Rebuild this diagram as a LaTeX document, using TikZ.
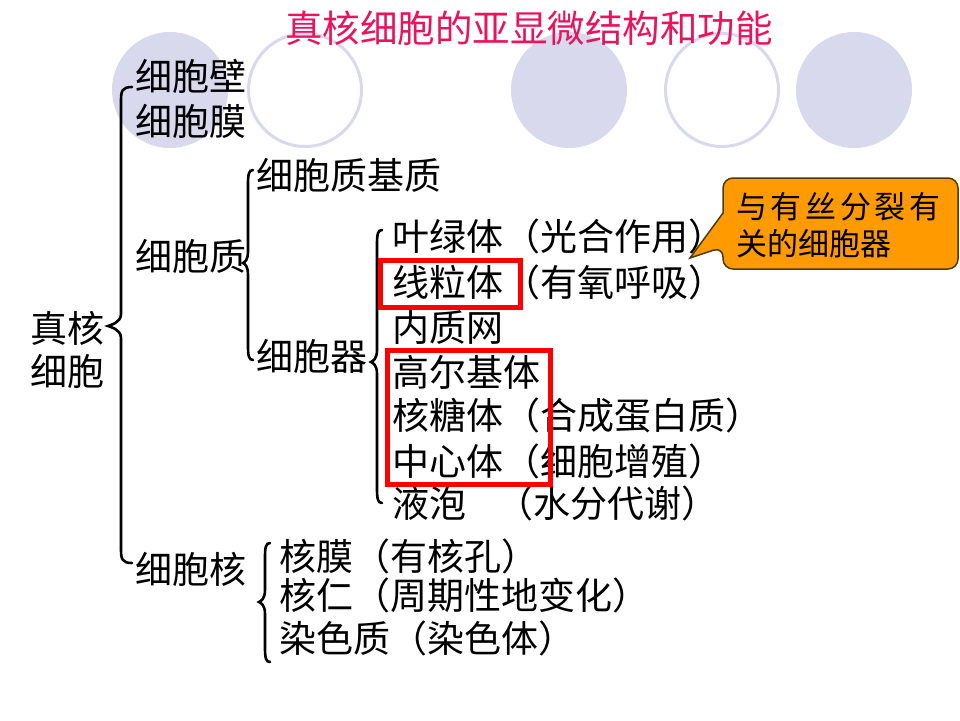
\documentclass[tikz,border=0pt]{standalone}
\usepackage{fontspec}
\setmainfont{Noto Sans CJK SC}[Kerning=Off]
\definecolor{lav}{HTML}{D9D9ED}
\definecolor{titlered}{HTML}{E8145E}
\definecolor{callfill}{HTML}{FF9A00}
\definecolor{callline}{HTML}{4D3A10}
\newcommand\mkbrace[6]{%
  \draw[brc] (#1,#4) .. controls (#2+1,#4) and (#2,#4+4) .. (#2,#4+14)
    -- (#2,#5-12) .. controls (#2,#5-3) and (#3+2,#5-1) .. (#3,#5)
    .. controls (#3+2,#5+1) and (#2,#5+3) .. (#2,#5+12)
    -- (#2,#6-14) .. controls (#2,#6-4) and (#2+1,#6) .. (#1,#6);}
\begin{document}
\begin{tikzpicture}[x=1pt,y=-1pt,
  lbl/.style={anchor=west, inner sep=0pt, text height=32.6pt, text depth=4.4pt,
    font=\fontsize{37pt}{37pt}\selectfont},
  cl/.style={anchor=west, inner sep=0pt, text height=27.3pt, text depth=3.7pt,
    font=\fontsize{31pt}{31pt}\selectfont},
  brc/.style={line width=2.6pt, line cap=round},
  redbox/.style={draw=red, line width=5pt},
  disc/.style={circle, fill=lav, draw=none, minimum size=116pt, inner sep=0pt},
  ring/.style={circle, draw=lav, line width=3pt, fill=white, minimum size=113pt, inner sep=0pt},
  callout/.style={fill=callfill, draw=callline, line width=1.5pt}]
\useasboundingbox (0,0) rectangle (960,720);
\fill[white] (0,0) rectangle (960,720);
% decorative circles
\node[disc] (c1) at (170,90) {};
\node[ring] (c2) at (305,90) {};
\node[disc] (c3) at (569,90) {};
\node[ring] (c4) at (722,90) {};
\node[disc] (c5) at (854,90) {};
% title
\node[inner sep=0pt, text height=33pt, text depth=4.5pt, text=titlered,
  font=\fontsize{37.5pt}{37.5pt}\selectfont] (title) at (529,28) {真核细胞的亚显微结构和功能};
% braces
\mkbrace{132}{121}{108}{87}{326}{563}
\mkbrace{253}{248}{243}{170}{263}{360}
\mkbrace{382}{377}{371}{230}{362}{503}
\mkbrace{270}{265}{259}{543}{602}{662}
% texts
\node[lbl] (zh1) at (30,328) {真核};
\node[lbl] (zh2) at (30,371) {细胞};
\node[lbl] (wall) at (135,76) {细胞壁};
\node[lbl] (memb) at (135,121) {细胞膜};
\node[lbl] (cyto) at (135,256) {细胞质};
\node[lbl] (nucl) at (135,569) {细胞核};
\node[lbl] (matrix) at (256,175) {细胞质基质};
\node[lbl] (organ) at (256,356) {细胞器};
\node[lbl] (o1) at (392,236) {叶绿体（光合作用）};
\node[lbl] (o2) at (392,282) {线粒体（有氧呼吸）};
\node[lbl] (o3) at (392,327) {内质网};
\node[lbl] (o4) at (392,372) {高尔基体};
\node[lbl] (o5) at (392,415) {核糖体（合成蛋白质）};
\node[lbl] (o6) at (392,461) {中心体（细胞增殖）};
\node[lbl] (o7) at (392,503) {液泡\hspace*{30pt}（水分代谢）};
\node[lbl] (n1) at (279,556) {核膜（有核孔）};
\node[lbl] (n2) at (279,595) {核仁（周期性地变化）};
\node[lbl] (n3) at (279,638) {染色质（染色体）};
% red boxes
\draw[redbox] (380,260) rectangle (520,307);
\draw[redbox] (387,350) rectangle (550,484);
% callout
\draw[callout] (840,178) [rounded corners=10pt] -- (958,178) -- (958,269) -- (723,269) -- (723,247)
  [sharp corners] -- (690,258) -- (723,213) [rounded corners=10pt] -- (723,178) -- cycle;
\node[cl] (call1) at (736,207) {与\kern3.7pt 有\kern3.7pt 丝\kern3.7pt 分\kern3.7pt 裂\kern3.7pt 有};
\node[cl] (call2) at (736,244) {关的细胞器};
\end{tikzpicture}
\end{document}
